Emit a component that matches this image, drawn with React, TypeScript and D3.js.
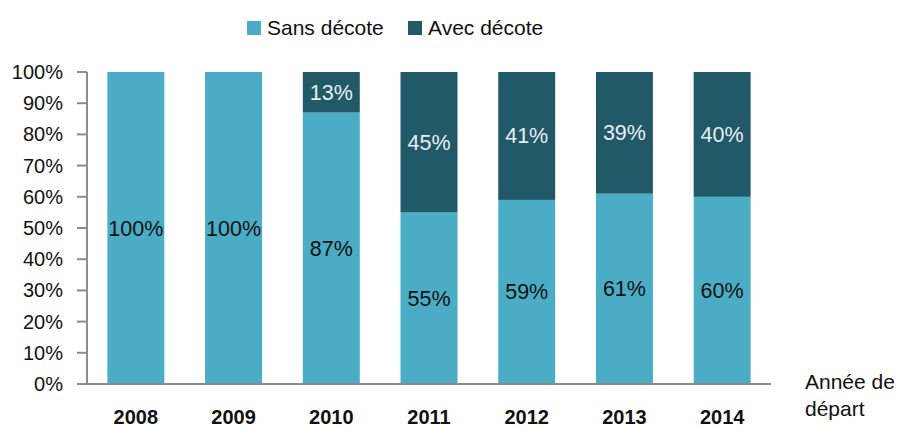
import React from "react";
import * as d3 from "d3";

const years = ["2008", "2009", "2010", "2011", "2012", "2013", "2014"];
const sansDecote = [100, 100, 87, 55, 59, 61, 60];
const avecDecote = [0, 0, 13, 45, 41, 39, 40];
const yTicks = [0, 10, 20, 30, 40, 50, 60, 70, 80, 90, 100];

const W = 900, H = 428;
const LIGHT = "#4BACC6";
const DARK = "#215968";
const FONT = "'Liberation Sans Narrow', 'Arial Narrow', 'Liberation Sans', Arial, sans-serif";

export default function App() {
  const x = d3.scaleBand().domain(years).range([87, 771]).paddingInner(0.417).paddingOuter(0.2085);
  const y = d3.scaleLinear().domain([0, 100]).range([384, 72]);
  return (
    <svg width={W} height={H} style={{ position: "absolute", left: 0, top: 0 }} fontFamily={FONT}>
      <rect width={W} height={H} fill="#fff" />
      {/* legend */}
      <rect x={247} y={21} width={14} height={14} fill={LIGHT} />
      <text x={267} y={35} fontSize={21} fill="#111">Sans décote</text>
      <rect x={408} y={21} width={14} height={14} fill={DARK} />
      <text x={428} y={35} fontSize={21} fill="#111">Avec décote</text>
      {/* bars */}
      {years.map((yr, i) => {
        const x0 = x(yr)!;
        const bw = x.bandwidth();
        const s = sansDecote[i], a = avecDecote[i];
        return (
          <g key={yr}>
            <rect x={x0} y={y(s)} width={bw} height={y(0) - y(s)} fill={LIGHT} />
            {a > 0 && <rect x={x0} y={y(s + a)} width={bw} height={y(s) - y(s + a)} fill={DARK} />}
            <text x={x0 + bw / 2} y={y(s / 2)} dy="0.35em" textAnchor="middle" fontSize={21.5} fill="#111">{s}%</text>
            {a > 0 && (
              <text x={x0 + bw / 2} y={y(s + a / 2)} dy="0.35em" textAnchor="middle" fontSize={21.5} fill="#e8eef0">{a}%</text>
            )}
            <text x={x0 + bw / 2} y={424} textAnchor="middle" fontSize={20} fontWeight="bold" fill="#111">{yr}</text>
          </g>
        );
      })}
      {/* y axis */}
      <line x1={87} x2={87} y1={72} y2={384} stroke="#8c8c8c" strokeWidth={2} />
      <line x1={77} x2={771} y1={384} y2={384} stroke="#8c8c8c" strokeWidth={2} />
      {yTicks.map((t) => (
        <g key={t}>
          <line x1={77} x2={87} y1={y(t)} y2={y(t)} stroke="#8c8c8c" strokeWidth={2} />
          <text x={63} y={y(t)} dy="0.35em" textAnchor="end" fontSize={20} fill="#111">{t}%</text>
        </g>
      ))}
      <text x={805} y={389} fontSize={21} fill="#111">Année de</text>
      <text x={805} y={416} fontSize={21} fill="#111">départ</text>
    </svg>
  );
}
